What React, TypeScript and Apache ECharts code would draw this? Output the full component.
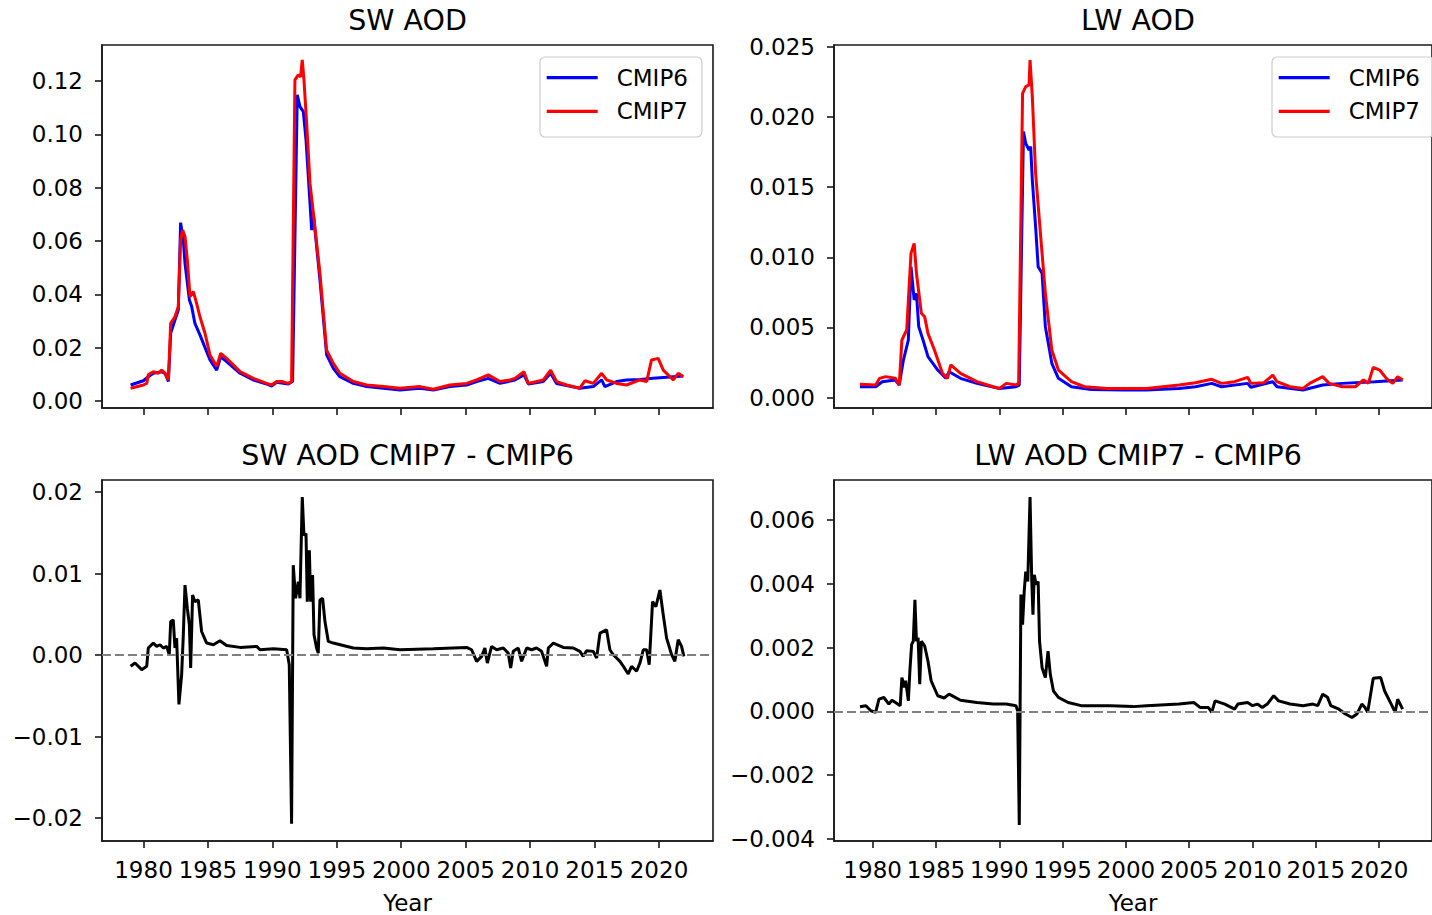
import React, { useEffect, useRef } from "react";
import * as echarts from "echarts";

// ---------- tick values / labels ----------
const yearTicks = [1980, 1985, 1990, 1995, 2000, 2005, 2010, 2015, 2020];
const swTicks = [0, 0.02, 0.04, 0.06, 0.08, 0.1, 0.12];
const lwTicks = [0, 0.005, 0.01, 0.015, 0.02, 0.025];
const swDiffTicks = [-0.02, -0.01, 0, 0.01, 0.02];
const lwDiffTicks = [-0.004, -0.002, 0, 0.002, 0.004, 0.006];
const seriesNames = ["CMIP6", "CMIP7"];
const titles = ["SW AOD", "LW AOD", "SW AOD CMIP7 - CMIP6", "LW AOD CMIP7 - CMIP6"];
const xLabel = "Year";

// ---------- data: [year, value] ----------
const swCmip6 = [
  [1979.0, 0.006], [1979.99, 0.0076], [1980.37, 0.0091], [1980.76, 0.0104], [1981.41, 0.011],
  [1981.67, 0.0104], [1981.93, 0.0073], [1982.11, 0.0254], [1982.44, 0.0304], [1982.7, 0.0341],
  [1982.88, 0.0669], [1983.09, 0.0604], [1983.22, 0.0516], [1983.56, 0.0379], [1983.74, 0.0354],
  [1983.99, 0.0291], [1984.38, 0.0248], [1985.16, 0.0154], [1985.68, 0.0116], [1985.99, 0.0166],
  [1986.45, 0.0148], [1987.49, 0.0104], [1988.52, 0.0079], [1989.55, 0.0064], [1989.94, 0.0056],
  [1990.33, 0.007], [1991.24, 0.0064], [1991.57, 0.0073], [1991.93, 0.1148], [1992.14, 0.1104],
  [1992.4, 0.1085], [1992.61, 0.0979], [1992.87, 0.0779], [1993.05, 0.0641], [1993.18, 0.0704],
  [1993.69, 0.0454], [1994.21, 0.0173], [1994.73, 0.0123], [1995.24, 0.0091], [1996.28, 0.0066],
  [1997.31, 0.0054], [1998.61, 0.0048], [1999.9, 0.0041], [2001.45, 0.0048], [2002.49, 0.0041],
  [2003.78, 0.0054], [2005.07, 0.006], [2005.85, 0.0073], [2006.75, 0.0085], [2007.66, 0.0066],
  [2008.82, 0.0079], [2009.52, 0.0098], [2009.86, 0.0064], [2011.02, 0.0073], [2011.59, 0.0104],
  [2012.05, 0.0066], [2013.86, 0.0048], [2014.9, 0.0054], [2015.55, 0.0079], [2015.8, 0.0054],
  [2016.71, 0.0073], [2017.48, 0.0079], [2018.52, 0.0081], [2019.55, 0.0085], [2020.59, 0.0089],
  [2021.88, 0.0094],
];
const swCmip7 = [
  [1979.0, 0.0048], [1979.99, 0.006], [1980.25, 0.0066], [1980.37, 0.0098], [1980.76, 0.011],
  [1981.15, 0.0104], [1981.41, 0.0116], [1981.67, 0.0104], [1981.93, 0.0079], [1982.11, 0.0291],
  [1982.44, 0.0316], [1982.7, 0.0354], [1982.88, 0.0604], [1983.04, 0.0641], [1983.22, 0.0616],
  [1983.4, 0.0529], [1983.61, 0.0391], [1983.87, 0.041], [1984.12, 0.0366], [1984.38, 0.0316],
  [1984.77, 0.0254], [1985.16, 0.0173], [1985.68, 0.0129], [1985.99, 0.0179], [1986.45, 0.016],
  [1987.49, 0.011], [1988.52, 0.0085], [1989.55, 0.0066], [1989.94, 0.006], [1990.33, 0.0073],
  [1990.72, 0.0073], [1991.24, 0.0066], [1991.49, 0.0073], [1991.75, 0.1204], [1992.01, 0.1223],
  [1992.19, 0.1216], [1992.32, 0.1279], [1992.45, 0.1204], [1992.66, 0.1041], [1992.92, 0.0816],
  [1993.18, 0.0704], [1993.69, 0.0479], [1994.21, 0.0191], [1994.73, 0.0141], [1995.24, 0.0104],
  [1996.28, 0.0073], [1997.31, 0.006], [1998.61, 0.0054], [1999.9, 0.0048], [2001.45, 0.0054],
  [2002.49, 0.0044], [2003.78, 0.006], [2005.07, 0.0066], [2005.85, 0.0079], [2006.75, 0.0098],
  [2007.66, 0.0073], [2008.43, 0.0079], [2008.82, 0.0085], [2009.52, 0.011], [2009.86, 0.0066],
  [2011.02, 0.0079], [2011.59, 0.0116], [2012.05, 0.0073], [2012.83, 0.006], [2013.86, 0.0048],
  [2014.25, 0.0076], [2014.9, 0.0066], [2015.55, 0.0104], [2015.93, 0.0079], [2016.71, 0.0066],
  [2017.48, 0.006], [2018.52, 0.0079], [2019.04, 0.0073], [2019.42, 0.0154], [2019.94, 0.016],
  [2020.33, 0.0116], [2021.11, 0.0079], [2021.49, 0.0104], [2021.88, 0.0091],
];
const lwCmip6 = [
  [1979.0, 0.00078], [1980.24, 0.00078], [1980.76, 0.00114], [1981.79, 0.00126], [1982.1, 0.0009],
  [1982.43, 0.00268], [1982.82, 0.00411], [1983.03, 0.00933], [1983.28, 0.00696], [1983.46, 0.00743],
  [1983.64, 0.00506], [1983.98, 0.00411], [1984.37, 0.00292], [1985.14, 0.00197], [1985.78, 0.00138],
  [1986.04, 0.00185], [1986.94, 0.00138], [1988.23, 0.00102], [1990.03, 0.00066], [1991.32, 0.00078],
  [1991.58, 0.0009], [1991.91, 0.01895], [1992.09, 0.01811], [1992.35, 0.01764], [1992.48, 0.01788],
  [1992.61, 0.0155], [1992.87, 0.01218], [1993.07, 0.00933], [1993.38, 0.00886], [1993.64, 0.00506],
  [1994.15, 0.00245], [1994.67, 0.00138], [1995.7, 0.00078], [1997.25, 0.00059], [1999.82, 0.00055],
  [2001.63, 0.00055], [2004.2, 0.00066], [2005.49, 0.00078], [2006.78, 0.00102], [2007.55, 0.00078],
  [2009.61, 0.00102], [2009.87, 0.00074], [2011.6, 0.00114], [2011.93, 0.00078], [2013.99, 0.00055],
  [2015.54, 0.0009], [2017.08, 0.00102], [2019.66, 0.00114], [2021.85, 0.00126],
];
const lwCmip7 = [
  [1979.0, 0.00095], [1980.24, 0.0009], [1980.55, 0.00138], [1981.02, 0.0015], [1981.79, 0.00138],
  [1982.1, 0.0009], [1982.31, 0.00411], [1982.69, 0.00482], [1983.03, 0.01028], [1983.28, 0.01099],
  [1983.46, 0.00886], [1983.85, 0.00601], [1984.11, 0.00577], [1984.37, 0.00458], [1984.88, 0.0034],
  [1985.52, 0.00173], [1985.91, 0.00138], [1986.17, 0.00233], [1986.94, 0.00173], [1988.23, 0.00114],
  [1989.52, 0.00078], [1990.03, 0.00066], [1990.55, 0.00102], [1991.32, 0.0009], [1991.53, 0.00102],
  [1991.84, 0.02168], [1992.09, 0.02215], [1992.35, 0.02227], [1992.43, 0.02405], [1992.61, 0.02144],
  [1992.87, 0.01598], [1993.25, 0.0117], [1993.64, 0.00743], [1994.15, 0.0034], [1994.67, 0.00197],
  [1995.7, 0.00114], [1996.73, 0.00078], [1998.53, 0.00066], [2000.59, 0.00066], [2001.63, 0.00066],
  [2002.91, 0.00078], [2004.2, 0.0009], [2005.49, 0.00107], [2006.78, 0.00131], [2007.55, 0.00102],
  [2008.58, 0.00114], [2009.61, 0.00145], [2009.87, 0.00102], [2010.9, 0.00107], [2011.6, 0.00161],
  [2011.93, 0.00114], [2012.96, 0.00078], [2013.99, 0.00066], [2014.51, 0.00102], [2015.54, 0.0015],
  [2016.05, 0.00102], [2017.08, 0.00078], [2018.11, 0.00078], [2018.76, 0.00126], [2019.14, 0.00102],
  [2019.53, 0.00216], [2020.04, 0.00197], [2020.56, 0.00138], [2021.07, 0.00102], [2021.46, 0.0015],
  [2021.85, 0.00126],
];
const swDiff = [
  [1979.0, -0.00136], [1979.34, -0.00096], [1979.86, -0.00177], [1980.25, -0.00136], [1980.37, 0.00088],
  [1980.76, 0.00149], [1981.02, 0.00108], [1981.28, 0.00128], [1981.54, 0.00088], [1981.8, 0.00108],
  [1982.0, 0.00006], [1982.11, 0.00413], [1982.31, 0.00433], [1982.44, 0.00088], [1982.57, 0.0021],
  [1982.75, -0.00604], [1982.96, -0.00238], [1983.09, 0.0025], [1983.22, 0.00861], [1983.4, 0.00576],
  [1983.56, 0.00372], [1983.66, -0.00157], [1983.81, 0.00739], [1983.99, 0.00657], [1984.25, 0.00678],
  [1984.51, 0.00291], [1984.9, 0.00149], [1985.42, 0.00128], [1985.93, 0.00177], [1986.45, 0.0012],
  [1987.49, 0.00096], [1988.78, 0.00108], [1989.04, 0.00067], [1990.07, 0.00079], [1991.11, 0.00067],
  [1991.31, -0.00116], [1991.49, -0.02069], [1991.62, 0.01105], [1991.8, 0.00698], [1992.01, 0.00902],
  [1992.14, 0.00698], [1992.32, 0.0194], [1992.45, 0.01471], [1992.61, 0.01492], [1992.71, 0.00657],
  [1992.87, 0.01288], [1992.97, 0.00657], [1993.12, 0.00983], [1993.23, 0.0025], [1993.43, 0.00088],
  [1993.56, 0.00026], [1993.69, 0.00678], [1993.9, 0.00698], [1994.08, 0.00413], [1994.34, 0.00169],
  [1994.73, 0.00149], [1995.5, 0.0012], [1996.28, 0.00088], [1997.31, 0.00079], [1998.61, 0.00088],
  [1999.9, 0.00067], [2002.49, 0.00079], [2005.07, 0.00096], [2005.46, 0.00067], [2005.85, -0.00075],
  [2006.24, -0.00014], [2006.49, 0.00088], [2006.68, -0.00096], [2007.01, 0.00108], [2007.4, 0.00067],
  [2007.92, 0.00088], [2008.3, 0.00026], [2008.49, -0.00157], [2008.69, 0.00047], [2009.08, 0.00088],
  [2009.34, -0.00075], [2009.73, 0.00088], [2010.11, 0.00067], [2010.5, 0.00088], [2010.89, 0.00047],
  [2011.28, -0.00136], [2011.41, 0.00088], [2011.8, 0.00149], [2012.57, 0.00096], [2013.35, 0.00088],
  [2013.86, 0.00047], [2014.12, -0.00014], [2014.38, 0.00055], [2014.9, 0.00047], [2015.16, -0.00035],
  [2015.42, 0.00271], [2015.93, 0.00311], [2016.19, 0.00067], [2016.45, 0.00006], [2016.97, -0.00075],
  [2017.23, -0.00136], [2017.61, -0.0023], [2017.87, -0.00136], [2018.26, -0.00197], [2018.52, -0.00096],
  [2018.78, 0.00067], [2019.04, 0.00067], [2019.24, -0.00116], [2019.5, 0.00657], [2019.76, 0.00596],
  [2020.07, 0.008], [2020.33, 0.00495], [2020.59, 0.0021], [2020.98, 0.00006], [2021.23, -0.00075],
  [2021.49, 0.00189], [2021.75, 0.00108], [2021.93, -0.00014],
];
const lwDiff = [
  [1979.0, 0.000145], [1979.47, 0.000177], [1979.86, 0.000021], [1980.24, -0.000031], [1980.5, 0.000384],
  [1980.89, 0.000436], [1981.28, 0.000228], [1981.53, 0.000353], [1981.92, 0.000249], [1982.18, 0.000177],
  [1982.31, 0.00106], [1982.51, 0.00075], [1982.61, 0.00096], [1982.82, 0.00033], [1982.95, 0.00132],
  [1983.08, 0.0021], [1983.21, 0.0022], [1983.34, 0.0035], [1983.46, 0.0022], [1983.59, 0.00231],
  [1983.72, 0.00085], [1983.85, 0.0022], [1984.11, 0.00205], [1984.37, 0.00158], [1984.62, 0.00096],
  [1985.14, 0.00049], [1985.65, 0.00042], [1986.04, 0.00054], [1986.94, 0.00035], [1988.23, 0.00028],
  [1989.52, 0.00023], [1990.55, 0.00023], [1991.32, 0.00018], [1991.45, 0.00002], [1991.58, -0.00356],
  [1991.71, 0.00366], [1991.84, 0.00272], [1991.97, 0.00376], [1992.09, 0.00438], [1992.25, 0.00407],
  [1992.43, 0.00672], [1992.56, 0.00417], [1992.66, 0.00303], [1992.76, 0.00428], [1992.92, 0.00397],
  [1993.07, 0.00407], [1993.18, 0.0022], [1993.38, 0.00137], [1993.64, 0.00106], [1993.85, 0.00189],
  [1994.03, 0.00116], [1994.28, 0.00064], [1994.67, 0.00044], [1995.44, 0.00028], [1996.47, 0.00018],
  [1997.76, 0.00018], [1998.79, 0.00018], [2000.59, 0.00015], [2001.63, 0.00018], [2004.2, 0.00023],
  [2005.36, 0.00028], [2005.88, 0.00012], [2006.52, 0.00012], [2006.78, -0.00003], [2007.04, 0.00033],
  [2007.81, 0.00023], [2008.58, 0.00007], [2008.84, 0.00023], [2009.61, 0.00028], [2010.0, 0.00018],
  [2010.38, 0.00023], [2010.77, 0.00012], [2011.16, 0.00023], [2011.67, 0.00049], [2012.06, 0.00033],
  [2012.96, 0.00023], [2013.99, 0.00018], [2014.76, 0.00023], [2015.15, 0.00018], [2015.54, 0.00054],
  [2015.92, 0.00044], [2016.18, 0.00018], [2016.82, 0.00007], [2017.34, -0.00008], [2017.85, -0.00019],
  [2018.24, -0.00008], [2018.63, 0.00023], [2018.88, 0.00012], [2019.09, -0.00003], [2019.53, 0.00104],
  [2020.12, 0.00106], [2020.43, 0.00064], [2020.95, 0.00023], [2021.26, -0.00003], [2021.46, 0.00038],
  [2021.85, 0.00007],
];

const FONT = "DejaVu Sans";
const AX = "#1a1a1a";
const TICK_FS = 23;

const fmt = (d: number) => (v: number) => v.toFixed(d).replace("-", "\u2212");

function xAxisFor(gridIndex: number, min: number, max: number, labels: boolean) {
  return {
    type: "value",
    gridIndex,
    min,
    max,
    name: labels ? xLabel : "",
    nameLocation: "middle",
    nameGap: 50,
    nameTextStyle: { fontSize: TICK_FS, fontFamily: FONT, color: "#000" },
    axisLine: { show: true, onZero: false, lineStyle: { color: AX, width: 1.6 } },
    axisTick: { show: true, customValues: yearTicks, length: 7, lineStyle: { color: AX, width: 1.6 } },
    axisLabel: {
      show: labels,
      customValues: yearTicks,
      margin: 17,
      fontSize: TICK_FS,
      fontFamily: FONT,
      color: "#000",
      formatter: (v: number) => String(Math.round(v)),
    },
    splitLine: { show: false },
  };
}

function yAxisFor(gridIndex: number, min: number, max: number, ticks: number[], dec: number) {
  return {
    type: "value",
    gridIndex,
    min,
    max,
    axisLine: { show: true, onZero: false, lineStyle: { color: AX, width: 1.6 } },
    axisTick: { show: true, customValues: ticks, length: 7, lineStyle: { color: AX, width: 1.6 } },
    axisLabel: {
      customValues: ticks,
      margin: 19,
      fontSize: TICK_FS,
      fontFamily: FONT,
      color: "#000",
      formatter: fmt(dec),
    },
    splitLine: { show: false },
  };
}

function lineSeries(name: string, x: number, data: number[][], color: string) {
  return {
    type: "line",
    name,
    xAxisIndex: x,
    yAxisIndex: x,
    data,
    showSymbol: false,
    symbol: "none",
    lineStyle: { color, width: 3 },
    itemStyle: { color },
    emphasis: { disabled: true },
  };
}

function diffSeries(x: number, data: number[][]) {
  return {
    ...lineSeries("diff", x, data, "#000000"),
    markLine: {
      silent: true,
      symbol: ["none", "none"],
      label: { show: false },
      lineStyle: { type: [9, 4], color: "#808080", width: 1.8 },
      data: [{ yAxis: 0 }],
    },
  };
}

function legendFor(left: number) {
  return {
    show: true,
    data: seriesNames.map((n) => ({ name: n, icon: "rect" })),
    orient: "vertical",
    left,
    top: 57,
    padding: [8.6, 14, 13.7, 6.7],
    itemWidth: 51,
    itemHeight: 3.2,
    itemGap: 9.7,
    backgroundColor: "rgba(255,255,255,0.8)",
    borderColor: "#cccccc",
    borderWidth: 1.2,
    borderRadius: 5,
    selectedMode: false,
    textStyle: { fontSize: TICK_FS, fontFamily: FONT, color: "#000", lineHeight: 24, padding: [0, 0, 0, 14] },
  };
}

export default function App() {
  const ref = useRef<HTMLDivElement>(null);
  useEffect(() => {
    if (!ref.current) return;
    const chart = echarts.init(ref.current, undefined, { renderer: "svg" });
    const gridBase = { show: true, borderColor: AX, borderWidth: 1.6, width: 611, height: 363 };
    const titleCenters = [407.5, 1138, 407.5, 1138];
    const titleTops = [6, 6, 441, 441];
    chart.setOption({
      animation: false,
      backgroundColor: "#ffffff",
      title: titles.map((t, i) => ({
        text: t,
        left: titleCenters[i],
        top: titleTops[i],
        textAlign: "center",
        padding: 0,
        textStyle: { fontSize: 28.5, fontWeight: "normal", fontFamily: FONT, color: "#000" },
      })),
      legend: [legendFor(540), legendFor(1272)],
      grid: [
        { ...gridBase, left: 102, top: 45 },
        { ...gridBase, left: 834, top: 45 },
        { ...gridBase, left: 102, top: 480 },
        { ...gridBase, left: 834, top: 480 },
      ],
      xAxis: [
        xAxisFor(0, 1976.78, 2024.19, false),
        xAxisFor(1, 1976.95, 2024.17, false),
        xAxisFor(2, 1976.78, 2024.19, true),
        xAxisFor(3, 1976.95, 2024.17, true),
      ],
      yAxis: [
        yAxisFor(0, -0.00262, 0.1335, swTicks, 2),
        yAxisFor(1, -0.000734, 0.02512, lwTicks, 3),
        yAxisFor(2, -0.0228, 0.0215, swDiffTicks, 2),
        yAxisFor(3, -0.00406, 0.00725, lwDiffTicks, 3),
      ],
      series: [
        lineSeries(seriesNames[0], 0, swCmip6, "#0000ff"),
        lineSeries(seriesNames[1], 0, swCmip7, "#ff0000"),
        lineSeries(seriesNames[0], 1, lwCmip6, "#0000ff"),
        lineSeries(seriesNames[1], 1, lwCmip7, "#ff0000"),
        diffSeries(2, swDiff),
        diffSeries(3, lwDiff),
      ],
    });
    return () => chart.dispose();
  }, []);
  return <div ref={ref} style={{ position: "absolute", left: 0, top: 0, width: 1432, height: 915 }} />;
}
